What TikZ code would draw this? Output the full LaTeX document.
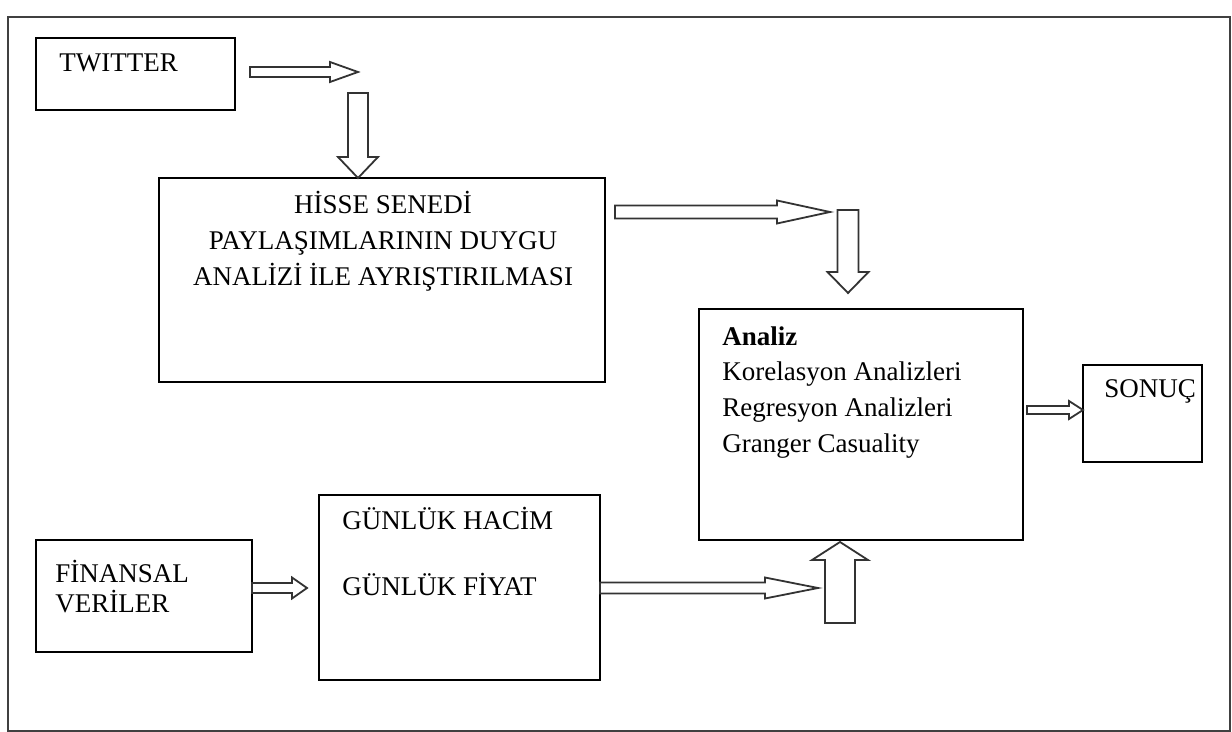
\documentclass[tikz,border=0pt]{standalone}
\usepackage{fontspec}
\setmainfont{Liberation Serif}
% horizontal block arrow: start x, tip x, centre y, shaft half, head half, head length
\newcommand\hblockarrow[6]{%
  \draw[barrow] (#1,{(#3)-(#4)}) -- ({(#2)-(#6)},{(#3)-(#4)}) -- ({(#2)-(#6)},{(#3)-(#5)})
    -- (#2,#3) -- ({(#2)-(#6)},{(#3)+(#5)}) -- ({(#2)-(#6)},{(#3)+(#4)}) -- (#1,{(#3)+(#4)}) -- cycle;}
% vertical block arrow: centre x, start y, tip y, shaft half, head half, signed head length
\newcommand\vblockarrow[6]{%
  \draw[barrow] ({(#1)-(#4)},#2) -- ({(#1)-(#4)},{(#3)-(#6)}) -- ({(#1)-(#5)},{(#3)-(#6)})
    -- (#1,#3) -- ({(#1)+(#5)},{(#3)-(#6)}) -- ({(#1)+(#4)},{(#3)-(#6)}) -- ({(#1)+(#4)},#2) -- cycle;}
\begin{document}
\begin{tikzpicture}[x=0.5pt,y=-0.5pt,
  box/.style={draw=black, line width=1pt, inner sep=0pt, outer sep=0pt, anchor=north west},
  lbl/.style={inner sep=0pt, anchor=base west, font=\fontsize{13.5}{18}\selectfont, align=left},
  barrow/.style={draw=black!80, line width=0.9pt, fill=white, line join=miter}]
\useasboundingbox (0,0) rectangle (1232,732);
\fill[white] (0,0) rectangle (1232,732);

\node[box, draw=black!75, minimum width=611pt, minimum height=357pt] (frame) at (8,17) {};

\node[box, minimum width=99.5pt, minimum height=36pt] (twitter) at (36,38) {};
\node[lbl] (twittert) at (59,72) {TWITTER};

% multi-line labels: base anchor = baseline of the last line
\node[box, minimum width=223pt, minimum height=102pt] (hisse) at (159,178) {};
\node[lbl, anchor=base, align=center] (hisset) at (383,286) {HİSSE SENEDİ\\PAYLAŞIMLARININ DUYGU\\ANALİZİ İLE AYRIŞTIRILMASI};

\node[box, minimum width=162pt, minimum height=115.5pt] (analiz) at (699,309) {};
\node[lbl] (analizt) at (722,453) {\textbf{Analiz}\\Korelasyon Analizleri\\Regresyon Analizleri\\Granger Casuality};

\node[box, minimum width=59.5pt, minimum height=48.5pt] (sonuc) at (1083,365) {};
\node[lbl] (sonuct) at (1104,398) {SONUÇ};

\node[box, minimum width=108pt, minimum height=56pt] (finans) at (36,540) {};
\node[lbl, font=\fontsize{13.5}{15}\selectfont] (finanst) at (55,612) {FİNANSAL\\VERİLER};

\node[box, minimum width=140.5pt, minimum height=92.5pt] (gunluk) at (319,495) {};
\node[lbl, font=\fontsize{13.5}{16.5}\selectfont] (gunlukt) at (342,596) {GÜNLÜK HACİM\\[16.5pt]GÜNLÜK FİYAT};

% block arrows
\hblockarrow{250}{358}{72}{5}{10}{28}
\vblockarrow{358}{93}{178}{10}{20}{21}
\hblockarrow{615}{830}{212}{6.5}{11.5}{53}
\vblockarrow{848}{210}{293}{10.5}{20.5}{21}
\hblockarrow{252}{307}{588}{5}{10.5}{15}
\hblockarrow{600}{818}{588}{5.5}{10.5}{53}
\vblockarrow{840}{623}{542}{15}{28}{-18}
\hblockarrow{1027}{1083}{410}{4}{9}{14}
\end{tikzpicture}
\end{document}
